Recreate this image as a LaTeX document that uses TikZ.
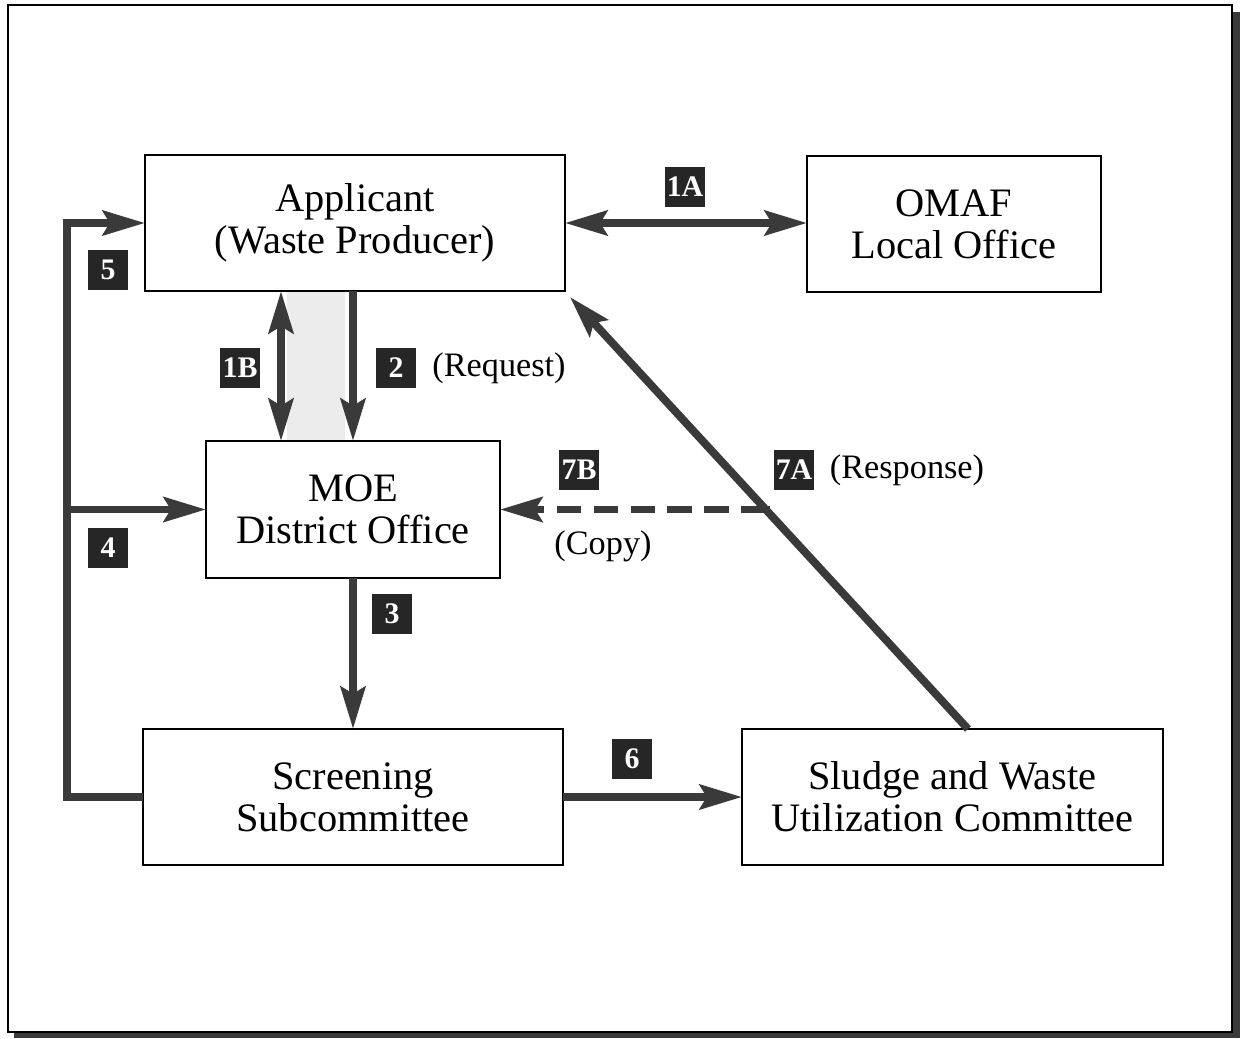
\documentclass[tikz,border=0pt]{standalone}
\usepackage{fontspec}
\setmainfont{Liberation Serif}
\usetikzlibrary{arrows.meta,calc,backgrounds}
\definecolor{arrgray}{HTML}{3A3A3A}
\definecolor{badgefill}{HTML}{262626}
\definecolor{shadegray}{HTML}{ECECEC}
\tikzset{
  box/.style={draw=black, line width=1.1pt, inner sep=0pt, outer sep=0pt, align=center,
    font=\fontsize{23}{24}\selectfont},
  badge/.style={fill=badgefill, text=white, inner sep=0pt, minimum size=0.8cm,
    font=\fontsize{17}{17}\selectfont\bfseries},
  note/.style={inner sep=0pt, font=\fontsize{19.5}{22}\selectfont},
  arr/.style={draw=arrgray, line width=4.5pt, line join=miter,
    -{Stealth[length=24pt,width=14pt,inset=4pt,fill=arrgray]}},
  dblarr/.style={draw=arrgray, line width=4.5pt,
    {Stealth[length=24pt,width=14pt,inset=4pt,fill=arrgray]}-{Stealth[length=24pt,width=14pt,inset=4pt,fill=arrgray]}},
}
\begin{document}
\begin{tikzpicture}[x=0.02cm,y=-0.02cm]
\useasboundingbox (0,0) rectangle (1243,1038);
% frame with shadow
\fill[arrgray] (1232,12) rectangle (1240,1038);
\fill[arrgray] (14,1032) rectangle (1240,1038);
\draw[line width=1.2pt] (8,5) rectangle (1232,1032);

% boxes
\node[box, minimum width=8.4cm, minimum height=2.72cm] (app) at (355,223) {Applicant\\(Waste Producer)};
\node[box, minimum width=5.88cm, minimum height=2.72cm] (omaf) at (954,224) {OMAF\\Local Office};
\node[box, minimum width=5.88cm, minimum height=2.74cm] (moe) at (353,509.5) {MOE\\District Office};
\node[box, minimum width=8.4cm, minimum height=2.72cm] (scr) at (353,797) {Screening\\Subcommittee};
\node[box, minimum width=8.42cm, minimum height=2.72cm] (slu) at (952.5,797) {Sludge and Waste\\Utilization Committee};

% shaded band between 1B and 2
\coordinate (shl) at (287,0);
\coordinate (shr) at (345,0);
\begin{pgfonlayer}{background}
\fill[shadegray] (app.south -| shl) rectangle (moe.north -| shr);
\end{pgfonlayer}

% coordinates
\coordinate (xl) at (67,0);
\coordinate (x1b) at (281,0);
\coordinate (s7) at ([xshift=0.31cm]slu.north);
\coordinate (t7) at ([shift={(5,6)}]app.south east);
\path (s7) -- (t7) coordinate[pos=0.508] (c7);

% connectors
\draw[dblarr] (app.east) -- (app.east -| omaf.west);
\draw[dblarr] (app.south -| x1b) -- (moe.north -| x1b);
\draw[arr] (app.south -| moe.north) -- (moe.north);
\draw[arr] (moe.south) -- (scr.north);
\draw[arr] (scr.west) -- (scr.west -| xl) -- (app.west -| xl) -- (app.west);
\draw[arr] (moe.west -| xl) -- (moe.west);
\draw[arr] (scr.east) -- (slu.west);
\draw[arr, line cap=butt] (s7) -- (t7);
\draw[arr, dash pattern=on 14pt off 7pt] (c7) -- (moe.east -| c7) -- (moe.east);

% badges
\node[badge] (b1a) at (685,186.5) {1A};
\node[badge] (b1b) at (240,368) {1B};
\node[badge] (b2) at (396,368) {2};
\node[badge] (b3) at (392,614) {3};
\node[badge] (b4) at (108,548) {4};
\node[badge] (b5) at (108,270) {5};
\node[badge] (b6) at (632,759) {6};
\node[badge] (b7a) at (794,470) {7A};
\node[badge] (b7b) at (579,470) {7B};

% notes
\node[note] (req) at (499,368) {(Request)};
\node[note] (resp) at (907,470) {(Response)};
\node[note] (copy) at (603,546) {(Copy)};
\end{tikzpicture}
\end{document}
